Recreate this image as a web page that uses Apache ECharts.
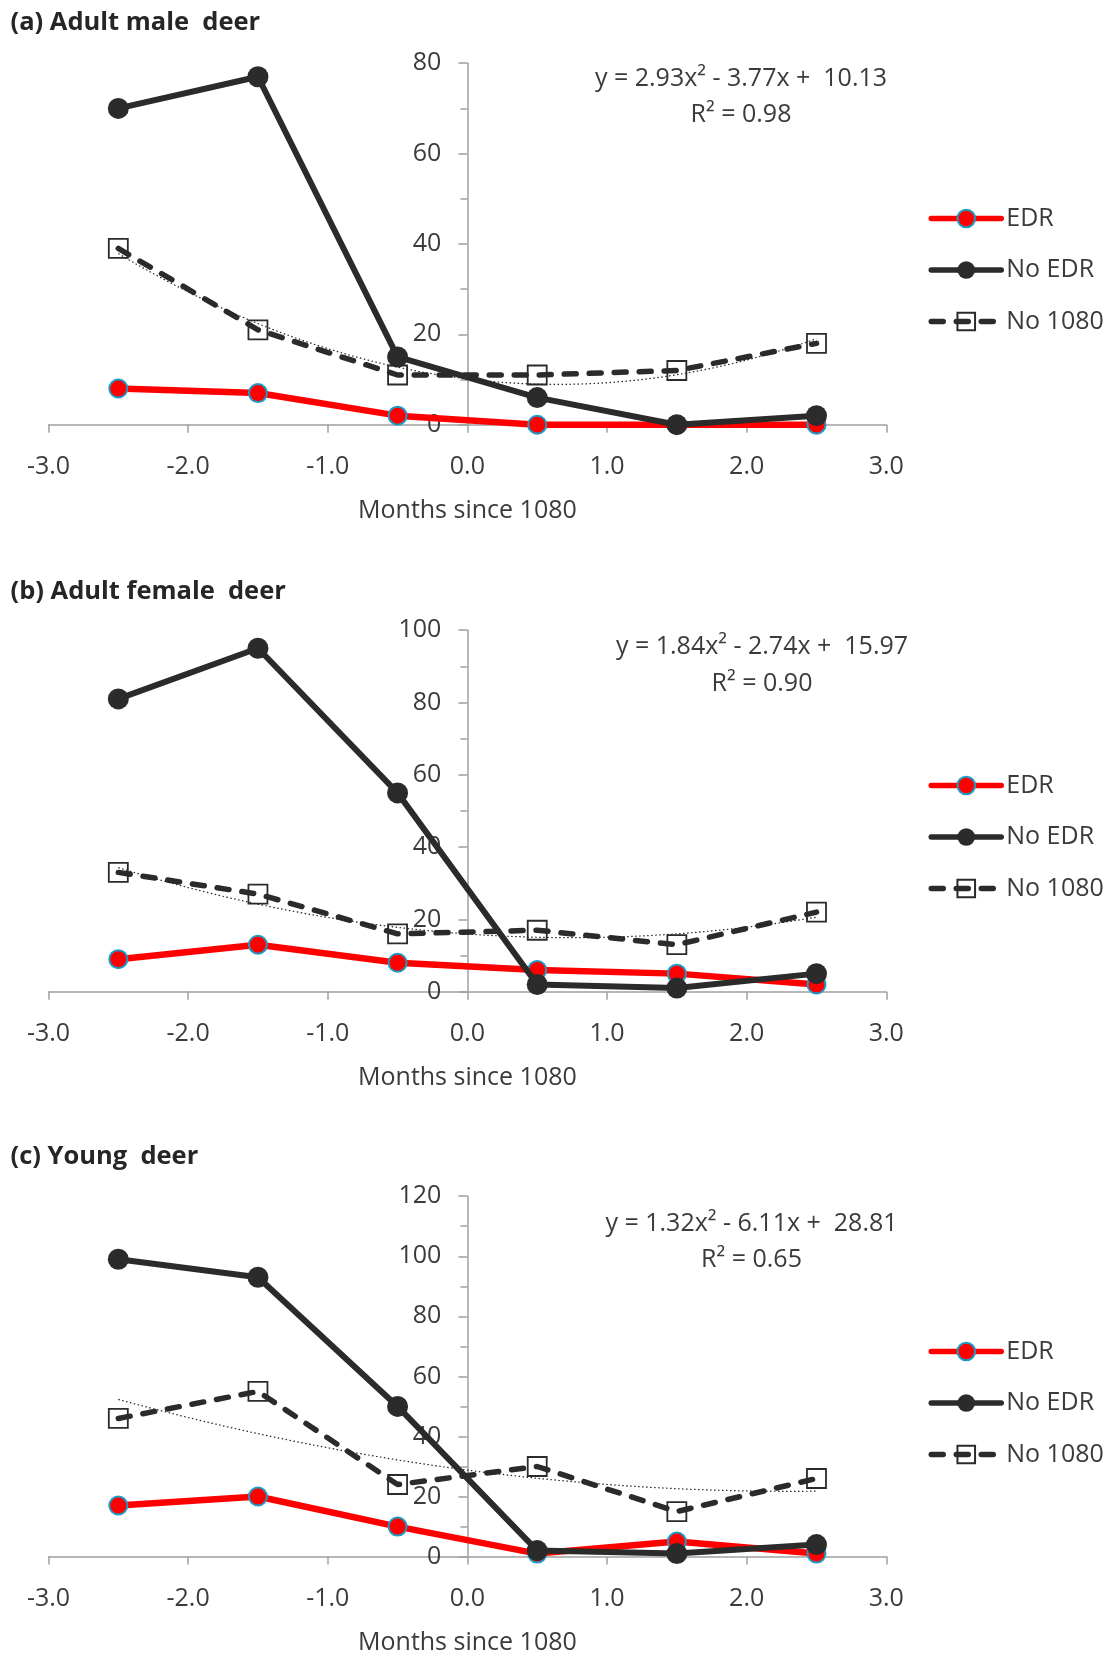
<!DOCTYPE html>
<html><head><meta charset="utf-8">
<script src="https://cdn.jsdelivr.net/npm/echarts@6/dist/echarts.min.js"></script>
<style>html,body{margin:0;padding:0;background:#fff}#c{width:1114px;height:1653px}</style>
</head><body><div id="c"></div>
<script>
// ---- data ----
const months = [-2.5, -1.5, -0.5, 0.5, 1.5, 2.5];
const seriesNames = ['EDR', 'No EDR', 'No 1080'];
const panelTitles = ['(a) Adult male  deer', '(b) Adult female  deer', '(c) Young  deer'];
const xAxisName = 'Months since 1080';
const xMin = -3, xMax = 3, xStep = 1;
const yMaxes = [80, 100, 120];
const yStep = 20;

const maleEDR = [8, 7, 2, 0, 0, 0];
const maleNoEDR = [70, 77, 15, 6, 0, 2];
const maleNo1080 = [39, 21, 11, 11, 12, 18];

const femaleEDR = [9, 13, 8, 6, 5, 2];
const femaleNoEDR = [81, 95, 55, 2, 1, 5];
const femaleNo1080 = [33, 27, 16, 17, 13, 22];

const youngEDR = [17, 20, 10, 1, 5, 1];
const youngNoEDR = [99, 93, 50, 2, 1, 4];
const youngNo1080 = [46, 55, 24, 30, 15, 26];

// quadratic trendline coefficients (a, b, c) for the No 1080 series, and R²
const maleTrend = [2.93, -3.77, 10.13];
const femaleTrend = [1.84, -2.74, 15.97];
const youngTrend = [1.32, -6.11, 28.81];
const rSquared = ['0.98', '0.90', '0.65'];

// ---- build ----
const panels = [
  { edr: maleEDR, noEdr: maleNoEDR, no1080: maleNo1080, trend: maleTrend },
  { edr: femaleEDR, noEdr: femaleNoEDR, no1080: femaleNo1080, trend: femaleTrend },
  { edr: youngEDR, noEdr: youngNoEDR, no1080: youngNo1080, trend: youngTrend }
];

const FONT = '"Open Sans", "Noto Sans", sans-serif';
const TXT = '#3b3b3b';
const AX = '#a0a0a0';
const DARK = '#2b2b2b';
const FS = 25;

const GRID_LEFT = 48.5, GRID_W = 837.8;
const layout = [
  { top: 63.2, height: 361.5, title: 23, eqX: 741, eqY: 79, r2Y: 115, legTop: 206 },
  { top: 630.2, height: 361.5, title: 592, eqX: 762, eqY: 647, r2Y: 684, legTop: 773 },
  { top: 1196.2, height: 360.4, title: 1157, eqX: 751.5, eqY: 1223.5, r2Y: 1259.5, legTop: 1339 }
];

function trendPoints(c) {
  const pts = [];
  for (let i = 0; i <= 100; i++) {
    const x = months[0] + (months[months.length - 1] - months[0]) * i / 100;
    pts.push([x, c[0] * x * x + c[1] * x + c[2]]);
  }
  return pts;
}
function fmt(v) { return Math.abs(v).toFixed(2); }
function eqText(c) {
  return 'y = ' + fmt(c[0]) + 'x² ' + (c[1] < 0 ? '- ' : '+ ') + fmt(c[1]) + 'x ' + (c[2] < 0 ? '-  ' : '+  ') + fmt(c[2]);
}

const grid = [], xAxis = [], yAxis = [], series = [], legend = [], graphic = [];
const yOffset = -GRID_W * (0 - xMin) / (xMax - xMin);

panels.forEach((p, i) => {
  const L = layout[i];
  grid.push({ left: GRID_LEFT, width: GRID_W, top: L.top, height: L.height, containLabel: false, outerBoundsMode: 'none' });
  xAxis.push({
    type: 'value', gridIndex: i, min: xMin, max: xMax, interval: xStep,
    name: xAxisName, nameLocation: 'middle', nameGap: 74,
    nameTextStyle: { fontFamily: FONT, fontSize: FS, color: TXT },
    axisLine: { onZero: false, lineStyle: { color: AX, width: 1.5 } },
    axisTick: { show: true, length: 8, lineStyle: { color: AX, width: 1.5 } },
    axisLabel: { margin: 30, fontFamily: FONT, fontSize: FS, color: TXT, formatter: v => v.toFixed(1) },
    splitLine: { show: false }
  });
  yAxis.push({
    type: 'value', gridIndex: i, min: 0, max: yMaxes[i], interval: yStep,
    position: 'left', offset: yOffset,
    axisLine: { show: true, onZero: false, lineStyle: { color: AX, width: 1.5 } },
    axisTick: { show: true, length: 9, lineStyle: { color: AX, width: 1.5 } },
    minorTick: { show: true, splitNumber: 2, length: 7, lineStyle: { color: AX, width: 1.5 } },
    axisLabel: { margin: 26, fontFamily: FONT, fontSize: FS, color: TXT },
    splitLine: { show: false }
  });
  const mk = arr => months.map((m, k) => [m, arr[k]]);
  series.push({
    name: seriesNames[0], type: 'line', xAxisIndex: i, yAxisIndex: i, data: mk(p.edr),
    symbol: 'circle', symbolSize: 18,
    lineStyle: { color: '#ff0000', width: 6.5 },
    itemStyle: { color: '#ff0000', borderColor: '#1f9ac4', borderWidth: 2 },
    emphasis: { disabled: true }, animation: false, z: 2
  });
  series.push({
    name: seriesNames[1], type: 'line', xAxisIndex: i, yAxisIndex: i, data: mk(p.noEdr),
    symbol: 'circle', symbolSize: 21,
    lineStyle: { color: DARK, width: 6 },
    itemStyle: { color: DARK, borderColor: DARK, borderWidth: 0 },
    emphasis: { disabled: true }, animation: false, z: 3
  });
  series.push({
    name: seriesNames[2], type: 'line', xAxisIndex: i, yAxisIndex: i, data: mk(p.no1080),
    symbol: 'rect', symbolSize: 19,
    lineStyle: { color: DARK, width: 5.5, type: [12, 13], cap: 'round' },
    itemStyle: { color: 'rgba(255,255,255,0)', borderColor: DARK, borderWidth: 1.8 },
    emphasis: { disabled: true }, animation: false, z: 4
  });
  series.push({
    name: 'trend' + i, type: 'line', xAxisIndex: i, yAxisIndex: i, data: trendPoints(p.trend),
    symbol: 'none', lineStyle: { color: '#222', width: 1.2, type: [1.5, 2.5] },
    emphasis: { disabled: true }, animation: false, silent: true, z: 5
  });
  legend.push({
    data: seriesNames, orient: 'vertical', left: 928.5, top: L.legTop,
    itemWidth: 70, itemHeight: 22, itemGap: 26.5, padding: 0,
    selectedMode: false,
    lineStyle: { width: 5.5, cap: 'round' },
    textStyle: { fontFamily: FONT, fontSize: FS, color: TXT, lineHeight: 22 }
  });
  graphic.push({
    type: 'text', x: 10.5, y: L.title,
    style: { text: panelTitles[i], font: 'bold 25.5px ' + FONT, fill: '#262626', textVerticalAlign: 'middle', textAlign: 'left' }
  });
  graphic.push({
    type: 'text', x: L.eqX, y: L.eqY,
    style: { text: eqText(p.trend), font: FS + 'px ' + FONT, fill: TXT, textVerticalAlign: 'middle', textAlign: 'center' }
  });
  graphic.push({
    type: 'text', x: L.eqX, y: L.r2Y,
    style: { text: 'R² = ' + rSquared[i], font: FS + 'px ' + FONT, fill: TXT, textVerticalAlign: 'middle', textAlign: 'center' }
  });
});

const chart = echarts.init(document.getElementById('c'), null, { renderer: 'canvas' });
chart.setOption({ animation: false, backgroundColor: '#fff', grid, xAxis, yAxis, series, legend, graphic });
</script>
</body></html>
